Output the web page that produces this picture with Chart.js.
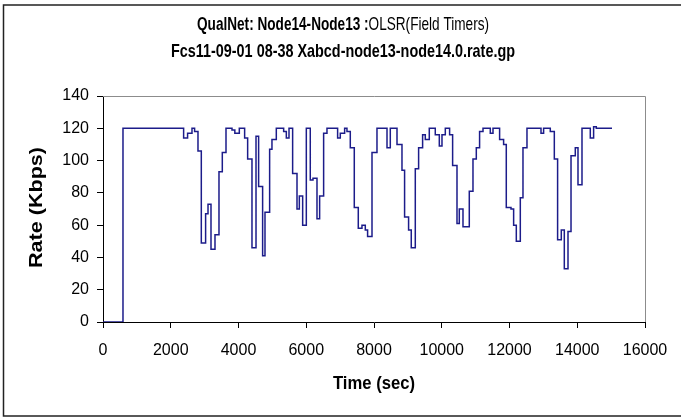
<!DOCTYPE html>
<html>
<head>
<meta charset="utf-8">
<script src="https://cdn.jsdelivr.net/npm/chart.js@4"></script>
<style>
  body { margin: 0; background: #fff; }
  #wrap { width: 681px; height: 417px; }
</style>
</head>
<body>
<div id="wrap"><canvas id="rate-chart" width="681" height="417"></canvas></div>
<script>
// Step data: time (sec) where each rate level starts
const times = [0, 590, 2380, 2497, 2627, 2704, 2804, 2902, 3029, 3100, 3188, 3306, 3424, 3522, 3631, 3808, 3892, 4024,
  4181, 4270, 4398, 4517, 4594, 4712, 4782, 4919, 4988, 5116, 5333, 5412, 5491, 5598, 5727, 5796, 5894, 6002, 6119,
  6199, 6317, 6395, 6513, 6612, 6926, 7005, 7133, 7202, 7300, 7418, 7536, 7645, 7743, 7811, 7941, 8088, 8384, 8481,
  8679, 8826, 8903, 9021, 9100, 9219, 9317, 9435, 9514, 9632, 9809, 9928, 10007, 10105, 10232, 10321, 10450, 10518,
  10627, 10813, 10922, 11020, 11117, 11218, 11433, 11513, 11708, 11826, 11905, 12044, 12122, 12201, 12319, 12398,
  12516, 12930, 13007, 13204, 13323, 13420, 13529, 13618, 13727, 13816, 13942, 14022, 14140, 14385, 14483, 14562, 15026];
const rates = [0, 120, 114, 117, 120, 118, 106, 49, 67, 73, 45, 54, 93, 105, 120, 119, 117, 120,
  114, 101, 46, 115, 84, 41, 68, 107, 113, 120, 118, 114, 120, 92, 70, 78, 60, 120, 88,
  89, 64, 78, 117, 120, 114, 117, 120, 118, 108, 71, 58, 60, 57, 53, 105, 120, 108, 120,
  110, 94, 65, 57, 46, 95, 108, 116, 113, 120, 116, 109, 116, 120, 116, 97, 61, 70,
  59, 81, 101, 108, 118, 120, 117, 120, 113, 110, 71, 70, 60, 50, 77, 108,
  120, 117, 120, 118, 101, 51, 57, 33, 56, 103, 108, 85, 120, 114, 121, 120, 120];

const titleBold = 'QualNet: Node14-Node13 :';
const titleNormal = 'OLSR(Field Timers)';
const subTitle = 'Fcs11-09-01 08-38 Xabcd-node13-node14.0.rate.gp';
const xTitle = 'Time (sec)';
const yTitle = 'Rate (Kbps)';

const FONT = '"Liberation Sans", Arial, sans-serif';

// draw text squeezed/stretched to a given width, centred on (cx, cy)
function fitText(ctx, parts, cx, cy, width) {
  let total = 0;
  parts.forEach(p => { ctx.font = p.font; p.w = ctx.measureText(p.text).width; total += p.w; });
  const k = width / total;
  ctx.save();
  ctx.translate(cx, cy);
  ctx.scale(k, 1);
  ctx.textAlign = 'left';
  ctx.textBaseline = 'middle';
  let x = -total / 2;
  parts.forEach(p => { ctx.font = p.font; ctx.fillText(p.text, x, 0); x += p.w; });
  ctx.restore();
}

// Titles, plot frame and outer border
const decor = {
  id: 'decor',
  beforeDatasetsDraw(c) {
    const { ctx, chartArea: a } = c;
    ctx.save();
    ctx.strokeStyle = '#8c8c8c';
    ctx.lineWidth = 1;
    ctx.beginPath();
    ctx.moveTo(a.left, Math.round(a.top) + 0.5);
    ctx.lineTo(Math.round(a.right) + 0.5, Math.round(a.top) + 0.5);
    ctx.lineTo(Math.round(a.right) + 0.5, a.bottom);
    ctx.stroke();
    ctx.restore();
  },
  afterDraw(c) {
    const ctx = c.ctx;
    ctx.save();
    ctx.fillStyle = '#000';
    const bold = 'bold 18.5px ' + FONT;
    const normal = '18.5px ' + FONT;
    fitText(ctx, [{ text: titleBold, font: bold }, { text: titleNormal, font: normal }], 343, 24.5, 292);
    fitText(ctx, [{ text: subTitle, font: bold }], 343, 51.5, 344);
    fitText(ctx, [{ text: xTitle, font: bold }], 374, 383.5, 82);
    ctx.save();
    ctx.translate(37, 207.5);
    ctx.rotate(-Math.PI / 2);
    fitText(ctx, [{ text: yTitle, font: bold }], 0, 0, 121);
    ctx.restore();

    ctx.strokeStyle = '#222';
    ctx.lineWidth = 1.5;
    ctx.strokeRect(3.5, 5, 700, 411);
    ctx.restore();
  }
};

new Chart(document.getElementById('rate-chart'), {
  type: 'line',
  data: {
    datasets: [{
      data: times.map((t, i) => ({ x: t, y: rates[i] })),
      stepped: 'before',
      borderColor: '#1c1c8a',
      borderWidth: 1.5,
      pointRadius: 0,
      fill: false
    }]
  },
  options: {
    responsive: false,
    animation: false,
    events: [],
    layout: { padding: { left: 0, top: 96, right: 36, bottom: 0 } },
    plugins: {
      legend: { display: false },
      tooltip: { enabled: false },
      title: { display: false }
    },
    scales: {
      x: {
        type: 'linear',
        min: 0,
        max: 16000,
        afterFit(s) { s.height = 95; },
        border: { color: '#000', width: 1 },
        grid: { drawOnChartArea: false, tickLength: 6, color: '#000' },
        ticks: {
          stepSize: 2000,
          color: '#000',
          padding: 13,
          maxRotation: 0,
          callback: v => String(v),
          font: { family: FONT, size: 16 }
        }
      },
      y: {
        min: 0,
        max: 140,
        afterFit(s) { s.width = 103; },
        border: { color: '#000', width: 1 },
        grid: { drawOnChartArea: false, tickLength: 6, color: '#000' },
        ticks: {
          stepSize: 20,
          color: '#000',
          padding: 8,
          callback: v => String(v),
          font: { family: FONT, size: 16 }
        }
      }
    }
  },
  plugins: [decor]
});
</script>
</body>
</html>
